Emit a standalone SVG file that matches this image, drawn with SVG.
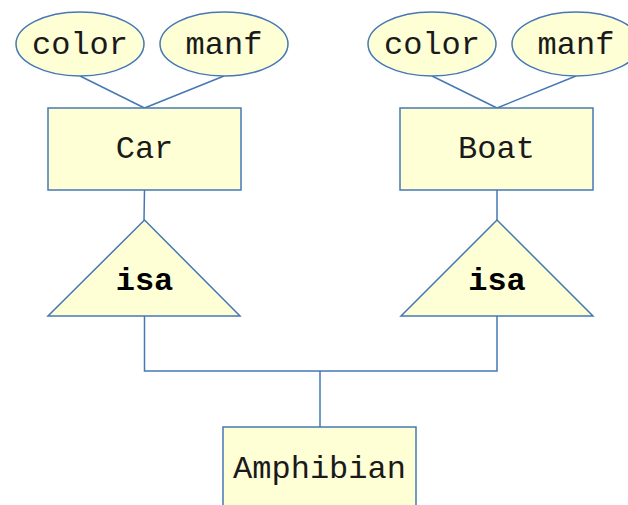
<svg xmlns="http://www.w3.org/2000/svg" width="628" height="505" viewBox="0 0 628 505">
  <style>
    .shape { fill: #FFFFD6; stroke: #4578B4; stroke-width: 1.5; }
    .link { fill: none; stroke: #4578B4; stroke-width: 1.5; }
    .lbl { font-family: "Liberation Mono", "Courier New", monospace; font-size: 32px; fill: #1a1a1a; text-anchor: middle; }
    .isa { font-family: "Liberation Mono", "Courier New", monospace; font-size: 32px; font-weight: bold; fill: #000; text-anchor: middle; }
  </style>
  <rect width="628" height="505" fill="#fff"/>

  <g id="connectors">
    <path class="link" d="M80 76 L144.5 108 M224 76 L144.5 108"/>
    <path class="link" d="M432 76 L497 108 M576 76 L497 108"/>
    <path class="link" d="M144.5 190 L144 220 M497 190 L497 220"/>
    <path class="link" d="M144.5 316 V371 H497 V316 M320 371 V427"/>
  </g>

  <g id="car-color">
    <ellipse class="shape" cx="80" cy="44" rx="64" ry="32"/>
    <text class="lbl" x="80" y="54">color</text>
  </g>
  <g id="car-manf">
    <ellipse class="shape" cx="224" cy="44" rx="64" ry="32"/>
    <text class="lbl" x="224" y="54">manf</text>
  </g>
  <g id="car">
    <rect class="shape" x="48" y="108" width="193" height="82"/>
    <text class="lbl" x="144.5" y="158">Car</text>
  </g>

  <g id="boat-color">
    <ellipse class="shape" cx="432" cy="44" rx="64" ry="32"/>
    <text class="lbl" x="432" y="54">color</text>
  </g>
  <g id="boat-manf">
    <ellipse class="shape" cx="576" cy="44" rx="64" ry="32"/>
    <text class="lbl" x="576" y="54">manf</text>
  </g>
  <g id="boat">
    <rect class="shape" x="400" y="108" width="193" height="82"/>
    <text class="lbl" x="496.5" y="158">Boat</text>
  </g>

  <g id="isa-car">
    <polygon class="shape" points="144.5,220 240,316 48,316"/>
    <text class="isa" x="144.5" y="290">isa</text>
  </g>
  <g id="isa-boat">
    <polygon class="shape" points="497,220 593,316 401,316"/>
    <text class="isa" x="497" y="290">isa</text>
  </g>

  <g id="amphibian">
    <rect class="shape" x="223" y="427" width="193" height="84"/>
    <text class="lbl" x="319.5" y="478">Amphibian</text>
  </g>
</svg>
